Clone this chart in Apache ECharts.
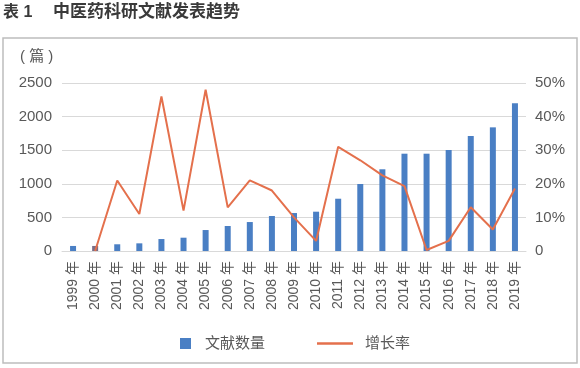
<!DOCTYPE html>
<html>
<head>
<meta charset="utf-8">
<script src="https://cdn.jsdelivr.net/npm/echarts@6/dist/echarts.min.js"></script>
<style>html,body{margin:0;padding:0;background:#fff;}#c{width:580px;height:368px;}</style>
</head>
<body>
<div id="c"></div>
<script>
var categories = ['1999 年','2000 年','2001 年','2002 年','2003 年','2004 年','2005 年','2006 年','2007 年','2008 年','2009 年','2010 年','2011 年','2012 年','2013 年','2014 年','2015 年','2016 年','2017 年','2018 年','2019 年'];
var docCounts = [75, 75, 100, 114, 178, 198, 312, 372, 431, 521, 565, 585, 778, 997, 1216, 1448, 1448, 1503, 1711, 1840, 2198];
var growthRate = ['-', 0, 21, 11, 46, 12, 48, 13, 21, 18, 10, 3, 31, 27, 22.5, 19.3, 0.3, 3, 13, 6.4, 18.6];
var leftTicks = [0, 500, 1000, 1500, 2000, 2500];
var rightTicks = [0, 10, 20, 30, 40, 50];
var barName = '文献数量';
var lineName = '增长率';
var titleLabel = '表 1';
var titleText = '中医药科研文献发表趋势';
var unitText = '( 篇 )';

var FONT = '"Liberation Sans", "Noto Sans CJK SC", sans-serif';
var chart = echarts.init(document.getElementById('c'), null, {renderer: 'canvas'});
var barData = docCounts.map(function (v, i) {
  return i === 1 ? {value: v, itemStyle: {color: '#7a6e88'}} : v;
});
chart.setOption({
  animation: false,
  textStyle: {fontFamily: FONT},
  graphic: [
    {type: 'rect', shape: {x: 3, y: 38, width: 574, height: 325},
     style: {fill: 'none', stroke: '#bdbdbd', lineWidth: 1.5}, silent: true},
    {type: 'text', left: 3, top: 5,
     style: {text: titleLabel, fontSize: 16, fontWeight: 'bold', fill: '#3a3a3a', fontFamily: FONT}},
    {type: 'text', left: 53, top: 4,
     style: {text: titleText, fontSize: 17, fontWeight: 'bold', fill: '#3a3a3a', fontFamily: FONT}},
    {type: 'text', left: 20, top: 49,
     style: {text: unitText, fontSize: 15, fill: '#595959', fontFamily: FONT}}
  ],
  grid: {left: 62, right: 54, top: 83, bottom: 117, containLabel: false},
  legend: [
    {data: [barName], left: 175, top: 331, itemWidth: 11, itemHeight: 11, icon: 'rect',
     textStyle: {fontSize: 15, color: '#595959', padding: [0, 0, 0, 9], fontFamily: FONT}},
    {data: [lineName], left: 312, top: 331, itemWidth: 36, itemHeight: 2.5, icon: 'rect',
     textStyle: {fontSize: 15, color: '#595959', padding: [0, 0, 0, 7], fontFamily: FONT}}
  ],
  xAxis: {
    type: 'category', data: categories,
    axisLine: {show: true, lineStyle: {color: '#d9d9d9', width: 1}},
    axisTick: {show: false},
    axisLabel: {rotate: 90, fontSize: 14, color: '#595959', margin: 10, interval: 0, fontFamily: FONT}
  },
  yAxis: [
    {type: 'value', min: leftTicks[0], max: leftTicks[leftTicks.length - 1], interval: leftTicks[1] - leftTicks[0],
     axisLine: {show: false}, axisTick: {show: false},
     axisLabel: {fontSize: 15, color: '#595959', margin: 10, fontFamily: FONT,
       formatter: function (v) { return String(v); }},
     splitLine: {lineStyle: {color: '#d9d9d9', width: 1}}},
    {type: 'value', min: rightTicks[0], max: rightTicks[rightTicks.length - 1], interval: rightTicks[1] - rightTicks[0],
     axisLine: {show: false}, axisTick: {show: false},
     axisLabel: {fontSize: 15, color: '#595959', margin: 9, fontFamily: FONT,
       formatter: function (v) { return v === 0 ? '0' : v + '%'; }},
     splitLine: {show: false}}
  ],
  series: [
    {name: barName, type: 'bar', data: barData, barWidth: 6, itemStyle: {color: '#4a7fc4'}, z: 2},
    {name: lineName, type: 'line', yAxisIndex: 1, data: growthRate, showSymbol: false, symbol: 'none',
     lineStyle: {color: '#e4704c', width: 2}, itemStyle: {color: '#e4704c'}, z: 3}
  ]
});
</script>
</body>
</html>
